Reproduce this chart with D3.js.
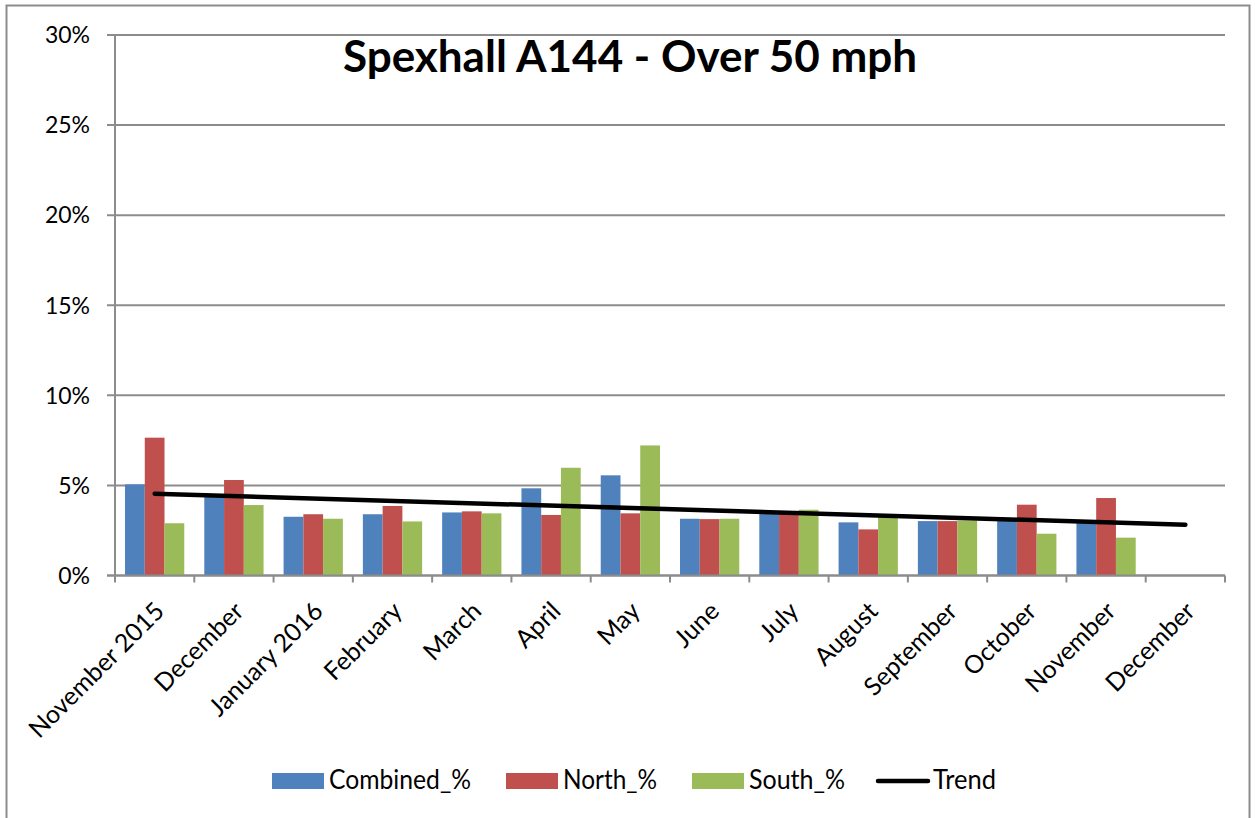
<!DOCTYPE html>
<html>
<head>
<meta charset="utf-8">
<script src="https://cdn.jsdelivr.net/npm/d3@7"></script>
<style>
  body { margin: 0; background: #fff; }
  svg { display: block; font-family: Lato, "Open Sans", sans-serif; }
</style>
</head>
<body>
<svg id="chart" width="1255" height="818"></svg>
<script>
// data
const months = ["November 2015", "December", "January 2016", "February", "March", "April", "May",
                "June", "July", "August", "September", "October", "November", "December "];
const combined = [5.06, 4.47, 3.26, 3.4, 3.5, 4.84, 5.56, 3.15, 3.5, 2.95, 3.02, 3.1, 3.0, null];
const north    = [7.65, 5.3, 3.4, 3.86, 3.56, 3.36, 3.45, 3.13, 3.45, 2.56, 3.02, 3.93, 4.3, null];
const south    = [2.9, 3.91, 3.15, 3.0, 3.45, 5.98, 7.22, 3.15, 3.65, 3.3, 3.05, 2.32, 2.1, null];
const trend    = [[0, 4.54], [13, 2.82]];   // linear trend, first and last category
const yTicks   = [0, 5, 10, 15, 20, 25, 30];

const seriesNames = ["Combined_%", "North_%", "South_%"];
const seriesColors = ["#4F81BD", "#C0504D", "#9BBB59"];
const seriesData = [combined, north, south];

const svg = d3.select("#chart");
const margin = {left: 115, right: 30, top: 35, bottom: 242};
const W = 1255, H = 818;

// outer chart border
svg.append("rect").attr("x", 6.5).attr("y", 5.5).attr("width", 1243).attr("height", 830)
   .attr("fill", "none").attr("stroke", "#8c8c8c").attr("stroke-width", 2);

const x = d3.scaleBand().domain(d3.range(months.length))
    .range([margin.left, W - margin.right]);
const inner = d3.scaleBand().domain(d3.range(3))
    .range([0, x.bandwidth()]).paddingOuter(0.507).paddingInner(0);
const y = d3.scaleLinear().domain([0, 30]).range([H - margin.bottom - 0.5, margin.top]);

// gridlines + y ticks
svg.append("g").selectAll("line").data(yTicks).join("line")
    .attr("x1", margin.left - 8).attr("x2", W - margin.right)
    .attr("y1", d => y(d)).attr("y2", d => y(d))
    .attr("stroke", "#8c8c8c").attr("stroke-width", 2);

svg.append("g").selectAll("text").data(yTicks).join("text")
    .attr("x", 90).attr("y", d => y(d)).attr("dy", "0.36em")
    .attr("text-anchor", "end").attr("font-size", 23).attr("fill", "#000")
    .text(d => d + "%");

// y axis line
svg.append("line").attr("x1", margin.left).attr("x2", margin.left)
    .attr("y1", y(30)).attr("y2", y(0))
    .attr("stroke", "#8c8c8c").attr("stroke-width", 2);

// bars
seriesData.forEach((vals, s) => {
  svg.append("g").selectAll("rect")
    .data(vals.map((v, i) => ({i, v})).filter(d => d.v != null))
    .join("rect")
    .attr("x", d => x(d.i) + inner(s))
    .attr("width", inner.bandwidth())
    .attr("y", d => y(d.v))
    .attr("height", d => y(0) - y(d.v))
    .attr("fill", seriesColors[s]);
});

// x axis line and ticks
svg.append("line").attr("x1", margin.left - 8).attr("x2", W - margin.right)
    .attr("y1", y(0)).attr("y2", y(0))
    .attr("stroke", "#8c8c8c").attr("stroke-width", 2);
svg.append("g").selectAll("line").data(d3.range(months.length + 1)).join("line")
    .attr("x1", i => margin.left + i * x.step()).attr("x2", i => margin.left + i * x.step())
    .attr("y1", y(0)).attr("y2", y(0) + 7)
    .attr("stroke", "#8c8c8c").attr("stroke-width", 2);

// x labels rotated
svg.append("g").selectAll("text").data(months).join("text")
    .attr("transform", (d, i) => `translate(${x(i) + x.bandwidth() / 2 + 5},${y(0) + 31}) rotate(-45)`)
    .attr("text-anchor", "end").attr("dy", "0.35em").attr("font-size", 25)
    .text(d => d.trim());

// trend
const line = d3.line().x(d => x(d[0]) + x.bandwidth() / 2).y(d => y(d[1]));
svg.append("path").datum(trend).attr("d", line)
    .attr("stroke", "#000").attr("stroke-width", 4.5).attr("fill", "none")
    .attr("stroke-linecap", "round");

// title
svg.append("text").attr("x", 630).attr("y", 72).attr("text-anchor", "middle")
    .attr("font-size", 44).attr("font-weight", "bold").text("Spexhall A144 - Over 50 mph");

// legend
const legend = svg.append("g").attr("font-size", 27);
const legX = [272, 506, 692];
const legW = [142, 94, 96];
seriesNames.forEach((n, s) => {
  legend.append("rect").attr("x", legX[s]).attr("y", 773).attr("width", 52).attr("height", 16)
    .attr("fill", seriesColors[s]);
  legend.append("text").attr("x", legX[s] + 57).attr("y", 789)
    .attr("textLength", legW[s]).attr("lengthAdjust", "spacingAndGlyphs").text(n);
});
legend.append("line").attr("x1", 878).attr("x2", 928).attr("y1", 781).attr("y2", 781)
  .attr("stroke", "#000").attr("stroke-width", 4.5).attr("stroke-linecap", "round");
legend.append("text").attr("x", 933).attr("y", 789)
  .attr("textLength", 63).attr("lengthAdjust", "spacingAndGlyphs").text("Trend");
</script>
</body>
</html>
